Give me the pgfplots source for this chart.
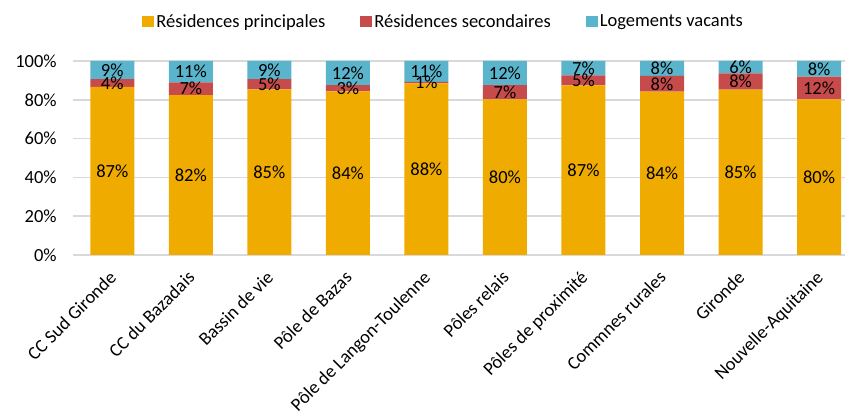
\documentclass[border=0pt]{standalone}
\usepackage{pgfplots}
\pgfplotsset{compat=1.18}
\usepackage{pgfplotstable}
\usepackage{fontspec}
\setmainfont{Carlito}
\definecolor{cP}{HTML}{F0AB00}
\definecolor{cS}{HTML}{C84B4B}
\definecolor{cV}{HTML}{5AB4CB}
\definecolor{grd}{HTML}{D9D9D9}
\pgfplotstableread{
x P S V Pm Sm Vm Pl Sl Vl
0 86.6 4.0 9.4 43.3 88.6 95.3 87 4 9
1 82.4 6.6 11.0 41.2 85.7 94.5 82 7 11
2 85.4 5.2 9.4 42.7 88.0 95.3 85 5 9
3 84.4 3.2 12.4 42.2 86.0 93.8 84 3 12
4 88.4 0.8 10.8 44.2 88.8 94.6 88 1 11
5 80.2 7.4 12.4 40.1 83.9 93.8 80 7 12
6 87.4 5.2 7.4 43.7 90.0 96.3 87 5 7
7 84.2 8.1 7.7 42.1 88.25 96.15 84 8 8
8 85.3 8.3 6.4 42.65 89.45 96.8 85 8 6
9 80.2 11.7 8.1 40.1 86.05 95.95 80 12 8
}\data
\pgfplotsset{
  base/.style={
    scale only axis, width=772pt, height=194pt,
    xmin=-0.5, xmax=9.33, ymin=0, ymax=100,
  }
}
\begin{document}
\fontsize{18.5}{22}\selectfont
\begin{tikzpicture}
\begin{axis}[base,
  ybar stacked, bar width=0.56,
  axis line style={draw=none},
  ymajorgrids, grid style={grd, line width=1.5pt},
  ytick={0,20,40,60,80,100},
  yticklabel={\pgfmathprintnumber{\tick}\%},
  yticklabel style={font=\fontsize{18.5}{22}\selectfont, xshift=-10pt},
  /pgf/number format/assume math mode=true,
  xtick={0,...,9},
  xticklabels={CC Sud Gironde, CC du Bazadais, Bassin de vie, P\^ole de Bazas, P\^ole de Langon-Toulenne, P\^oles relais, P\^oles de proximit\'e, Commnes rurales, Gironde, Nouvelle-Aquitaine},
  xticklabel style={font=\fontsize{18.5}{22}\selectfont, xshift=-4pt, yshift=-13pt, rotate=45, anchor=north east, inner sep=1pt},
  major tick length=0pt,
  legend style={at={(0.48,1.0)}, anchor=south, yshift=27pt, draw=none, fill=none,
    legend columns=3, font=\fontsize{18.5}{22}\selectfont,
    /tikz/every even column/.append style={column sep=33pt}},
  legend image code/.code={\fill[#1] (0pt,-5pt) rectangle (12pt,6pt);},
  name=ax,
]
\addplot[fill=cP, draw=none] table[x=x,y=P] \data;
\addplot[fill=cS, draw=none] table[x=x,y=S] \data;
\addplot[fill=cV, draw=none] table[x=x,y=V] \data;
\legend{R\'esidences principales, R\'esidences secondaires, Logements vacants}
\coordinate (bl) at (rel axis cs:0,0);
\coordinate (tr) at (rel axis cs:1,1);
\end{axis}
\begin{axis}[base, hide axis, clip=false,
  nodes near coords={\pgfplotspointmeta\%},
  point meta=explicit symbolic,
  every node near coord/.append style={anchor=center, font=\fontsize{18.5}{22}\selectfont, text=black, inner sep=0pt},
]
\addplot[only marks, mark=none] table[x=x,y=Pm,meta=Pl] \data;
\addplot[only marks, mark=none] table[x=x,y=Sm,meta=Sl] \data;
\addplot[only marks, mark=none] table[x=x,y=Vm,meta=Vl] \data;
\end{axis}
\pgfresetboundingbox
\path ([xshift=-73pt,yshift=-161pt]bl) rectangle ([yshift=61pt]tr);
\end{tikzpicture}
\end{document}
